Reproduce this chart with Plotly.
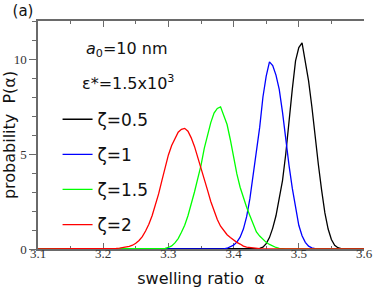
import plotly.graph_objects as go

# swelling ratio alpha grid values and probabilities
x_black = [3.1, 3.435, 3.44, 3.445, 3.45, 3.455, 3.46, 3.465, 3.47, 3.475, 3.48, 3.485, 3.49, 3.495,
           3.5, 3.505, 3.51, 3.515, 3.52, 3.525, 3.53, 3.535, 3.54, 3.545, 3.55, 3.555, 3.56, 3.565, 3.57, 3.6]
y_black = [0, 0.0, 0.03, 0.1, 0.28, 0.6, 1.1, 1.75, 2.6, 3.6, 5.0, 6.8, 8.4, 9.9,
           10.6, 10.85, 9.85, 8.85, 7.5, 5.9, 4.45, 3.1, 1.9, 1.05, 0.5, 0.2, 0.07, 0.02, 0.0, 0]

x_blue = [3.1, 3.385, 3.39, 3.395, 3.4, 3.405, 3.41, 3.415, 3.42, 3.425, 3.43, 3.435, 3.44, 3.445,
          3.45, 3.455, 3.46, 3.465, 3.47, 3.475, 3.48, 3.485, 3.49, 3.495, 3.5, 3.505, 3.51, 3.515,
          3.52, 3.525, 3.53, 3.6]
y_blue = [0, 0.0, 0.04, 0.1, 0.2, 0.36, 0.62, 1.05, 1.7, 2.65, 3.9, 5.1, 6.4, 8.0,
          9.1, 9.85, 9.65, 9.15, 8.4, 7.2, 5.7, 4.4, 3.2, 2.1, 1.25, 0.7, 0.35, 0.15,
          0.06, 0.02, 0.0, 0]

x_green = [3.1, 3.285, 3.29, 3.295, 3.3, 3.305, 3.31, 3.315, 3.32, 3.325, 3.33, 3.335, 3.34, 3.345,
           3.35, 3.355, 3.36, 3.365, 3.37, 3.375, 3.38, 3.385, 3.39, 3.395, 3.4, 3.405, 3.41, 3.415,
           3.42, 3.425, 3.43, 3.435, 3.44, 3.445, 3.45, 3.455, 3.46, 3.465, 3.47, 3.475, 3.48, 3.6]
y_green = [0, 0.0, 0.01, 0.03, 0.08, 0.16, 0.32, 0.55, 0.88, 1.25, 1.75, 2.35, 3.0, 3.7,
           4.4, 5.3, 6.0, 6.65, 7.15, 7.4, 7.48, 7.0, 6.55, 5.75, 4.8, 3.95, 3.25, 2.7,
           2.2, 1.75, 1.3, 0.9, 0.68, 0.5, 0.35, 0.24, 0.15, 0.08, 0.03, 0.01, 0.0, 0]

x_red = [3.1, 3.205, 3.21, 3.215, 3.22, 3.225, 3.23, 3.235, 3.24, 3.245, 3.25, 3.255, 3.26, 3.265,
         3.27, 3.275, 3.28, 3.285, 3.29, 3.295, 3.3, 3.305, 3.31, 3.315, 3.32, 3.325, 3.33, 3.335,
         3.34, 3.345, 3.35, 3.355, 3.36, 3.365, 3.37, 3.375, 3.38, 3.385, 3.39, 3.395, 3.4, 3.405,
         3.41, 3.415, 3.42, 3.425, 3.43, 3.435, 3.44, 3.445, 3.45, 3.6]
y_red = [0, 0.0, 0.01, 0.02, 0.03, 0.05, 0.07, 0.1, 0.14, 0.2, 0.3, 0.45, 0.65, 0.95,
         1.3, 1.75, 2.3, 2.9, 3.6, 4.3, 4.95, 5.45, 5.85, 6.15, 6.3, 6.35, 6.2, 5.85,
         5.4, 4.85, 4.3, 3.7, 3.1, 2.5, 2.0, 1.55, 1.2, 0.95, 0.75, 0.6, 0.45, 0.35,
         0.26, 0.15, 0.1, 0.07, 0.05, 0.03, 0.02, 0.01, 0.0, 0]

labels = ["ζ=0.5", "ζ=1", "ζ=1.5", "ζ=2"]
colors = ["#000000", "#0000ff", "#00ff00", "#ff0000"]
series = [(x_black, y_black), (x_blue, y_blue), (x_green, y_green), (x_red, y_red)]

x_ticks = [3.1, 3.2, 3.3, 3.4, 3.5, 3.6]
x_ticktext = ["3.1", "3.2", "3.3", "3.4", "3.5", "3.6"]
y_ticks = [0, 5, 10]
y_ticktext = ["0", "5", "10"]

AX = "#6a6a6a"
SANS = "DejaVu Sans"
SERIF = "Liberation Serif"

fig = go.Figure()
for (xs, ys), lab, col in zip(series, labels, colors):
    fig.add_trace(go.Scatter(x=xs, y=ys, mode="lines", name=lab, legendgroup=lab,
                             line=dict(color=col, width=1.3)))

fig.update_layout(
    width=374, height=292,
    margin=dict(l=38, r=10, t=21, b=43),
    plot_bgcolor="white", paper_bgcolor="white",
    title=dict(text="(a)", xref="container", yref="container", x=0.0615, y=0.962,
               xanchor="center", yanchor="middle",
               font=dict(family=SANS, size=15, color="#111")),
    showlegend=True,
    legend=dict(x=0.06, y=0.646, xanchor="left", yanchor="top",
                bgcolor="rgba(0,0,0,0)", borderwidth=0,
                font=dict(family=SANS, size=17, color="#111"),
                tracegroupgap=10),
    xaxis=dict(range=[3.1, 3.6], tickvals=x_ticks, ticktext=x_ticktext,
               ticks="inside", ticklen=6, tickwidth=1, tickcolor=AX,
               minor=dict(dtick=0.05, tick0=3.1, ticks="inside", ticklen=3, tickcolor=AX, tickwidth=1),
               showline=True, linecolor=AX, linewidth=1.5, mirror="ticks",
               showgrid=False, zeroline=False, layer="below traces", automargin=False,
               ticklabelstandoff=-8,
               tickfont=dict(family=SERIF, size=13, color="#333"),
               title=dict(text="swelling ratio\u00a0\u00a0α", standoff=12,
                          font=dict(family=SANS, size=16, color="#111"))),
    yaxis=dict(range=[0, 12], tickvals=y_ticks, ticktext=y_ticktext,
               ticks="outside", ticklen=7, tickwidth=1, tickcolor=AX,
               minor=dict(dtick=1, tick0=0, ticks="outside", ticklen=4, tickcolor=AX, tickwidth=1),
               showline=True, linecolor=AX, linewidth=1.5, automargin=False,
               showgrid=False, zeroline=False, layer="below traces",
               tickfont=dict(family=SERIF, size=13, color="#333"),
               title=dict(text="probability\u00a0\u00a0P(α)", standoff=4,
                          font=dict(family=SANS, size=16, color="#111"))),
    yaxis2=dict(range=[0, 12], overlaying="y", side="right", tickvals=y_ticks,
                showticklabels=False, ticks="inside", ticklen=5, tickwidth=1, tickcolor=AX,
                minor=dict(dtick=1, tick0=0, ticks="inside", ticklen=3, tickcolor=AX, tickwidth=1),
                showline=True, linecolor=AX, linewidth=1.5, showgrid=False, zeroline=False,
                automargin=False),
    annotations=[
        dict(text="<i>a</i><sub>0</sub>=10 nm", xref="paper", yref="paper", x=0.273, y=0.873,
             showarrow=False, xanchor="center", yanchor="middle",
             font=dict(family=SANS, size=16, color="#111")),
        dict(text="ε*=1.5x10<sup>3</sup>", xref="paper", yref="paper", x=0.276, y=0.73,
             showarrow=False, xanchor="center", yanchor="middle",
             font=dict(family=SANS, size=16, color="#111")),
    ],
)

fig.write_html("out.html", config={"displayModeBar": False},
               post_script="document.body.style.margin='0';document.body.style.overflow='hidden';")
